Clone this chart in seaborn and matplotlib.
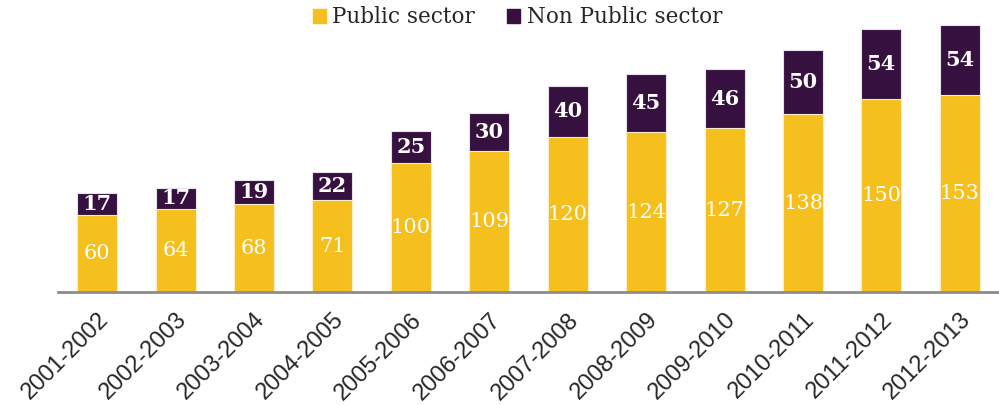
import matplotlib
matplotlib.use("Agg")
import matplotlib.pyplot as plt
import seaborn as sns
import pandas as pd
from matplotlib.patches import Patch

years = ["2001-2002", "2002-2003", "2003-2004", "2004-2005", "2005-2006", "2006-2007",
         "2007-2008", "2008-2009", "2009-2010", "2010-2011", "2011-2012", "2012-2013"]
public = [60, 64, 68, 71, 100, 109, 120, 124, 127, 138, 150, 153]
non_public = [17, 17, 19, 22, 25, 30, 40, 45, 46, 50, 54, 54]

YELLOW = "#F5BF1E"
PURPLE = "#361140"

sns.set_style("white")

df = pd.DataFrame({"year": years, "public": public, "non_public": non_public})
df["total"] = df["public"] + df["non_public"]

fig = plt.figure(figsize=(9.99, 4.05), dpi=100)
ax = fig.add_axes([0.058, 0.279, 0.942, 0.672])

# total bar first (purple), then public on top of it from zero
sns.barplot(data=df, x="year", y="total", color=PURPLE, width=0.51,
            edgecolor="#e8e0ea", linewidth=0.8, saturation=1, ax=ax)
sns.barplot(data=df, x="year", y="public", color=YELLOW, width=0.51,
            edgecolor="#fbeecb", linewidth=0.8, saturation=1, ax=ax)

label_font = dict(family="DejaVu Serif", color="white", ha="center", va="center")
for i, (p, n) in enumerate(zip(public, non_public)):
    ax.text(i, p / 2, str(p), fontsize=15, **label_font)
    ax.text(i, p + n / 2, str(n), fontsize=15, fontweight="bold", **label_font)

ax.set_xlim(-0.5, 11.5)
ax.set_ylim(0, 211)
ax.set_xlabel("")
ax.set_ylabel("")
ax.set_yticks([])
for s in ["top", "right", "left"]:
    ax.spines[s].set_visible(False)
ax.spines["bottom"].set_color("#8c8c8c")
ax.spines["bottom"].set_linewidth(2)
ax.tick_params(axis="x", length=0, pad=12)
plt.setp(ax.get_xticklabels(), rotation=45, ha="right", rotation_mode="anchor",
         fontsize=17, family="Liberation Sans")

handles = [Patch(color=YELLOW, label="Public sector"),
           Patch(color=PURPLE, label="Non Public sector")]
fig.legend(handles=handles, loc="upper center", bbox_to_anchor=(0.518, 1.032), ncol=2,
           frameon=False, prop={"family": "DejaVu Serif", "size": 15.5},
           handlelength=0.6, handleheight=0.6, handletextpad=0.3, columnspacing=1.5)

fig.savefig("out.png", dpi=100)
